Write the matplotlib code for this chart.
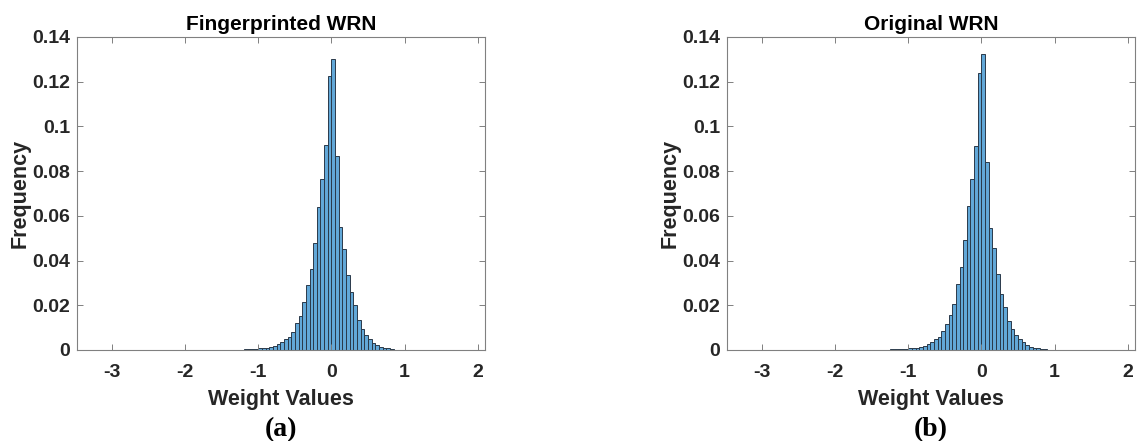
import numpy as np
import matplotlib
matplotlib.use("Agg")
import matplotlib.pyplot as plt
from matplotlib.ticker import FuncFormatter

# histogram data (probability per bin, bin width 0.05, first bin at -1.5)
bin_start = -1.5
bin_width = 0.05

freq_fingerprinted = [
    0.0001, 0.0001, 0.0001, 0.0001, 0.0001, 0.0002, 0.0003, 0.0004, 0.0003, 0.0003,
    0.0007, 0.0007, 0.0008, 0.0015, 0.0020, 0.0027, 0.0037, 0.0049, 0.0057, 0.0080,
    0.0120, 0.0150, 0.0216, 0.0290, 0.0364, 0.0478, 0.0640, 0.0766, 0.0918, 0.1225,
    0.1303, 0.0869, 0.0552, 0.0452, 0.0335, 0.0258, 0.0200, 0.0133, 0.0095, 0.0067,
    0.0048, 0.0033, 0.0024, 0.0015, 0.0010, 0.0007, 0.0004, 0.0002, 0.0001, 0.0001,
]
freq_original = [
    0.0001, 0.0001, 0.0001, 0.0001, 0.0002, 0.0003, 0.0004, 0.0006, 0.0004, 0.0005,
    0.0007, 0.0007, 0.0009, 0.0015, 0.0019, 0.0029, 0.0036, 0.0051, 0.0059, 0.0085,
    0.0116, 0.0156, 0.0207, 0.0297, 0.0372, 0.0493, 0.0643, 0.0766, 0.0913, 0.1237,
    0.1324, 0.0840, 0.0546, 0.0455, 0.0339, 0.0249, 0.0193, 0.0131, 0.0095, 0.0065,
    0.0048, 0.0034, 0.0024, 0.0015, 0.0011, 0.0009, 0.0006, 0.0004, 0.0002, 0.0001,
]
titles = ["Fingerprinted WRN", "Original WRN"]
sublabels = ["(a)", "(b)"]
x_ticks = [-3, -2, -1, 0, 1, 2]
y_ticks = [0, 0.02, 0.04, 0.06, 0.08, 0.1, 0.12, 0.14]

plt.rcParams['font.family'] = ['Liberation Sans', 'DejaVu Sans']
plt.rcParams['axes.unicode_minus'] = False

fig = plt.figure(figsize=(11.38, 4.41), dpi=100)
W, H = 1138, 441
axes_px = [(77, 37, 408, 313), (727, 37, 408, 313)]

for (px, py, pw, ph), freqs, title, sub in zip(axes_px, [freq_fingerprinted, freq_original], titles, sublabels):
    ax = fig.add_axes([px / W, 1 - (py + ph) / H, pw / W, ph / H])
    lefts = bin_start + bin_width * np.arange(len(freqs))
    ax.bar(lefts, freqs, width=bin_width, align='edge', color='#62a8d8',
           edgecolor='#2a3a4a', linewidth=0.7)
    ax.set_xlim(-3.48, 2.1)
    ax.set_ylim(0, 0.14)
    ax.set_xticks(x_ticks)
    ax.set_yticks(y_ticks)
    ax.yaxis.set_major_formatter(FuncFormatter(lambda v, p: "%g" % round(v, 4)))
    ax.tick_params(direction='in', top=True, right=True, length=4, width=0.7,
                   colors='#808080', labelcolor='#262626', labelsize=14)
    ax.tick_params(axis='x', pad=10)
    ax.tick_params(axis='y', pad=5)
    for lab in ax.get_xticklabels() + ax.get_yticklabels():
        lab.set_fontweight('bold')
    for sp in ax.spines.values():
        sp.set_color('#808080')
        sp.set_linewidth(0.8)
    ax.set_title(title, fontsize=15, fontweight='bold', pad=5)
    ax.set_xlabel("Weight Values", fontsize=15.5, fontweight='bold', color='#262626', labelpad=6)
    ax.set_ylabel("Frequency", fontsize=15.5, fontweight='bold', color='#262626', labelpad=1)
    fig.text((px + pw / 2) / W, 1 - 430 / H, sub, ha='center', va='center',
             fontsize=20, fontweight='bold', family=['Liberation Serif', 'DejaVu Serif'])

fig.savefig("out.png", dpi=100)
